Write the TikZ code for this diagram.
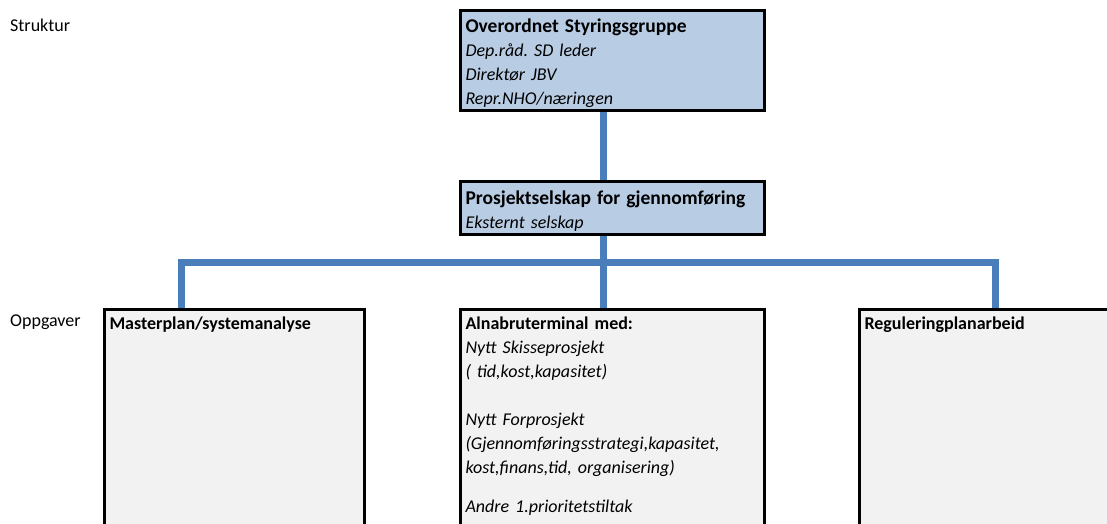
\documentclass[tikz,border=0pt]{standalone}
\usepackage{fontspec}
\setmainfont{Carlito}[WordSpace={1,0,0}]
\definecolor{boxblue}{HTML}{B8CCE4}
\definecolor{boxgrey}{HTML}{F2F2F2}
\definecolor{lineblue}{HTML}{4A7EBB}
\frenchspacing

\begin{document}
\begin{tikzpicture}[x=1pt,y=-1pt]
        \useasboundingbox (0,0) rectangle (1107,524);
        \clip (0,0) rectangle (1107,524);

        \coordinate (bar) at (603,262);
        \coordinate (mtop) at (181,308);
        \coordinate (rtop) at (995,308);

        \begin{scope}[every path/.style={draw=lineblue, line width=7pt}]
                \draw (603,108) -- (603,180);
                \draw (603,232) -- (603,308);
                \draw (mtop) -- (mtop |- bar) -- (rtop |- bar) -- (rtop);
        \end{scope}

        \begin{scope}[every node/.style={anchor=north west, draw, line width=3pt, inner xsep=5pt, inner ysep=3pt, align=left, font=\fontsize{18}{24}\selectfont}]
                \node [fill=boxblue, text width=294pt, text height=19pt] (styr) at (459,9) {{\fontsize{19.5}{24}\selectfont\bfseries Overordnet Styringsgruppe}\\ \textit{Dep.råd. SD leder}\\ \textit{Direktør JBV}\\ \textit{Repr.NHO/næringen}};
                \node [fill=boxblue, text width=294pt, text height=20pt] (prosj) at (459,180) {{\fontsize{19.5}{24}\selectfont\bfseries Prosjektselskap for gjennomføring}\\ \textit{Eksternt selskap}};
                \node [fill=boxgrey, text width=250pt, text height=17pt, text depth=240pt] (master) at (103,308) {\textbf{Masterplan/systemanalyse}};
                \node [fill=boxgrey, text width=294pt, text height=17pt, text depth=240pt] (alna) at (459,308) {\textbf{Alnabruterminal med:}\\ \textit{Nytt Skisseprosjekt}\\ \textit{( tid,kost,kapasitet)}\\[24pt] \textit{Nytt Forprosjekt}\\ \textit{(Gjennomføringsstrategi,kapasitet,}\\ \textit{kost,finans,tid, organisering)}\\[15pt] \textit{Andre 1.prioritetstiltak}};
                \node [fill=boxgrey, text width=250pt, text height=17pt, text depth=240pt] (regul) at (858,308) {\textbf{Reguleringplanarbeid}};
        \end{scope}

        \begin{scope}[every node/.style={anchor=west, inner sep=0pt, font=\fontsize{18}{20}\selectfont}]
                \node (struktur) at (10,25) {Struktur};
                \node (oppgaver) at (10,322) {Oppgaver};
        \end{scope}
\end{tikzpicture}
\end{document}
